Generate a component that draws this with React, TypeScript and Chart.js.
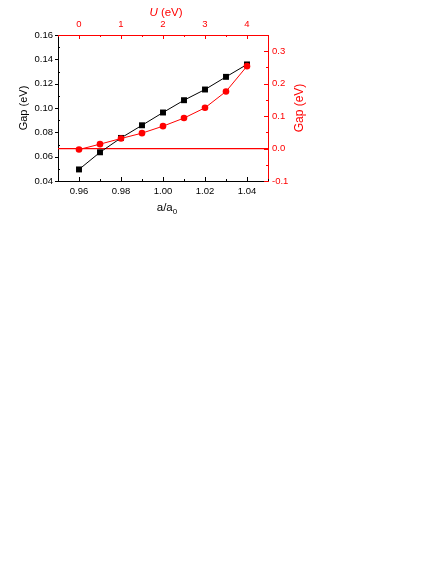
import { useEffect, useRef } from 'react';
import { Chart, registerables } from 'chart.js';

Chart.register(...registerables);

// ---- data ----
const latticeRatio = [0.96, 0.97, 0.98, 0.99, 1.0, 1.01, 1.02, 1.03, 1.04];
const gapVsLattice = [0.0495, 0.0636, 0.0754, 0.0858, 0.0963, 0.1064, 0.1152, 0.1256, 0.1358];
const hubbardU = [0, 0.5, 1, 1.5, 2, 2.5, 3, 3.5, 4];
const gapVsU = [-0.003, 0.0136, 0.031, 0.0475, 0.069, 0.094, 0.1256, 0.176, 0.254];
const referenceGap = 0;

const bottomTicks = [0.96, 0.98, 1.0, 1.02, 1.04];
const bottomMinor = [0.95, 0.97, 0.99, 1.01, 1.03, 1.05];
const leftTicks = [0.04, 0.06, 0.08, 0.1, 0.12, 0.14, 0.16];
const leftMinor = [0.05, 0.07, 0.09, 0.11, 0.13, 0.15];
const topTicks = [0, 1, 2, 3, 4];
const topMinor = [-0.5, 0.5, 1.5, 2.5, 3.5, 4.5];
const rightTicks = [-0.1, 0, 0.1, 0.2, 0.3];
const rightMinor = [-0.05, 0.05, 0.15, 0.25, 0.35];

const FONT = '"Liberation Sans", Arial, Helvetica, sans-serif';
const RED = '#ff0000';
const BLACK = '#000000';

function drawTicks(chart: any, scaleId: string, values: number[], len: number, color: string) {
  const { ctx, chartArea: a } = chart;
  const s = chart.scales[scaleId];
  ctx.save();
  ctx.strokeStyle = color;
  ctx.lineWidth = 1;
  ctx.beginPath();
  values.forEach((v) => {
    if (s.isHorizontal()) {
      const x = Math.round(s.getPixelForValue(v)) + 0.5;
      if (s.position === 'bottom') {
        ctx.moveTo(x, a.bottom);
        ctx.lineTo(x, a.bottom - len);
      } else {
        ctx.moveTo(x, a.top);
        ctx.lineTo(x, a.top + len);
      }
    } else {
      const y = Math.round(s.getPixelForValue(v)) + 0.5;
      if (s.position === 'left') {
        ctx.moveTo(a.left, y);
        ctx.lineTo(a.left + len, y);
      } else {
        ctx.moveTo(a.right, y);
        ctx.lineTo(a.right - len, y);
      }
    }
  });
  ctx.stroke();
  ctx.restore();
}

const decor = {
  id: 'decor',
  beforeDatasetsDraw(chart: any) {
    const { ctx, chartArea: a } = chart;
    const yz = chart.scales.y2.getPixelForValue(referenceGap);
    ctx.save();
    ctx.strokeStyle = RED;
    ctx.lineWidth = 1.2;
    ctx.beginPath();
    ctx.moveTo(a.left, yz);
    ctx.lineTo(a.right, yz);
    ctx.stroke();
    ctx.restore();
  },
  afterDraw(chart: any) {
    const { ctx, chartArea: a } = chart;
    drawTicks(chart, 'x', bottomTicks, 4, BLACK);
    drawTicks(chart, 'x', bottomMinor, 2, BLACK);
    drawTicks(chart, 'y', leftTicks, -3, BLACK);
    drawTicks(chart, 'y', leftMinor, 2, BLACK);
    drawTicks(chart, 'x2', topTicks, 4, RED);
    drawTicks(chart, 'x2', topMinor, 2, RED);
    drawTicks(chart, 'y2', rightTicks, 4, RED);
    drawTicks(chart, 'y2', rightMinor, 2, RED);

    const midY = (a.top + a.bottom) / 2;
    const midX = (a.left + a.right) / 2;
    ctx.save();
    ctx.textBaseline = 'middle';
    ctx.textAlign = 'center';
    ctx.font = `11px ${FONT}`;
    // left title
    ctx.save();
    ctx.fillStyle = BLACK;
    ctx.translate(a.left - 34, midY);
    ctx.rotate(-Math.PI / 2);
    ctx.fillText('Gap (eV)', 0, 0);
    ctx.restore();
    // right title
    ctx.save();
    ctx.fillStyle = RED;
    ctx.font = `12px ${FONT}`;
    ctx.translate(a.right + 32, midY);
    ctx.rotate(-Math.PI / 2);
    ctx.fillText('Gap (eV)', 0, 0);
    ctx.restore();
    // top title: U (eV)
    ctx.textAlign = 'left';
    ctx.fillStyle = RED;
    const italic = `italic 11.5px ${FONT}`;
    const normal = `11.5px ${FONT}`;
    ctx.font = italic;
    const wU = ctx.measureText('U').width;
    ctx.font = normal;
    const wRest = ctx.measureText(' (eV)').width;
    let x0 = midX + 3 - (wU + wRest) / 2;
    const yTop = a.top - 22;
    ctx.font = italic;
    ctx.fillText('U', x0, yTop);
    ctx.font = normal;
    ctx.fillText(' (eV)', x0 + wU, yTop);
    // bottom title: a/a0
    ctx.fillStyle = BLACK;
    const wA = ctx.measureText('a/a').width;
    ctx.font = `8px ${FONT}`;
    const w0 = ctx.measureText('0').width;
    x0 = midX + 4 - (wA + w0) / 2;
    const yBot = a.bottom + 27;
    ctx.font = normal;
    ctx.fillText('a/a', x0, yBot);
    ctx.font = `8px ${FONT}`;
    ctx.fillText('0', x0 + wA, yBot + 4);
    ctx.restore();
  },
};

export default function App() {
  const ref = useRef<HTMLCanvasElement | null>(null);

  useEffect(() => {
    if (!ref.current) return;
    const tickFont = { family: FONT, size: 9.5 };
    const chart = new Chart(ref.current, {
      type: 'line',
      data: {
        datasets: [
          {
            label: 'Gap vs U',
            data: hubbardU.map((u, i) => ({ x: u, y: gapVsU[i] })),
            xAxisID: 'x2',
            yAxisID: 'y2',
            borderColor: RED,
            backgroundColor: RED,
            borderWidth: 1,
            pointStyle: 'circle',
            pointRadius: 3.3,
            pointBorderWidth: 0,
            tension: 0,
            order: 0,
          },
          {
            label: 'Gap vs a/a0',
            data: latticeRatio.map((r, i) => ({ x: r, y: gapVsLattice[i] })),
            xAxisID: 'x',
            yAxisID: 'y',
            borderColor: BLACK,
            backgroundColor: BLACK,
            borderWidth: 1,
            pointStyle: 'rect',
            pointRadius: 4.2,
            pointBorderWidth: 0,
            tension: 0,
            order: 1,
          },
        ],
      },
      options: {
        animation: false,
        responsive: false,
        devicePixelRatio: 1,
        layout: { padding: 0 },
        plugins: { legend: { display: false }, tooltip: { enabled: false } },
        scales: {
          x: {
            type: 'linear',
            position: 'bottom',
            min: 0.95,
            max: 1.05,
            grid: { display: false, drawTicks: false },
            border: { display: true, color: BLACK, width: 1 },
            ticks: {
              color: BLACK,
              font: tickFont,
              padding: 5,
              maxRotation: 0,
              autoSkip: false,
              callback: (v: any) => Number(v).toFixed(2),
            },
            afterBuildTicks: (s: any) => {
              s.ticks = bottomTicks.map((v) => ({ value: v }));
            },
            afterFit: (s: any) => {
              s.height = 383;
            },
          },
          x2: {
            type: 'linear',
            position: 'top',
            min: -0.5,
            max: 4.5,
            grid: { display: false, drawTicks: false },
            border: { display: true, color: RED, width: 1 },
            ticks: {
              color: RED,
              font: tickFont,
              padding: 5,
              maxRotation: 0,
              autoSkip: false,
              callback: (v: any) => String(Math.round(Number(v))),
            },
            afterBuildTicks: (s: any) => {
              s.ticks = topTicks.map((v) => ({ value: v }));
            },
            afterFit: (s: any) => {
              s.height = 35;
            },
          },
          y: {
            type: 'linear',
            position: 'left',
            min: 0.04,
            max: 0.16,
            grid: { display: false, drawTicks: false },
            border: { display: true, color: BLACK, width: 1 },
            ticks: {
              color: BLACK,
              font: tickFont,
              padding: 5,
              autoSkip: false,
              callback: (v: any) => Number(v).toFixed(2),
            },
            afterBuildTicks: (s: any) => {
              s.ticks = leftTicks.map((v) => ({ value: v }));
            },
            afterFit: (s: any) => {
              s.width = 58;
            },
          },
          y2: {
            type: 'linear',
            position: 'right',
            min: -0.1,
            max: 0.35,
            grid: { display: false, drawTicks: false },
            border: { display: true, color: RED, width: 1 },
            ticks: {
              color: RED,
              font: tickFont,
              padding: 4,
              autoSkip: false,
              callback: (v: any) => Number(v).toFixed(1),
            },
            afterBuildTicks: (s: any) => {
              s.ticks = rightTicks.map((v) => ({ value: v }));
            },
            afterFit: (s: any) => {
              s.width = 168;
            },
          },
        },
      },
      plugins: [decor],
    } as any);
    return () => chart.destroy();
  }, []);

  return (
    <div style={{ position: 'absolute', left: 0, top: 0, width: 436, height: 564, background: '#fff' }}>
      <canvas ref={ref} width={436} height={564} style={{ display: 'block', width: 436, height: 564 }} />
    </div>
  );
}
